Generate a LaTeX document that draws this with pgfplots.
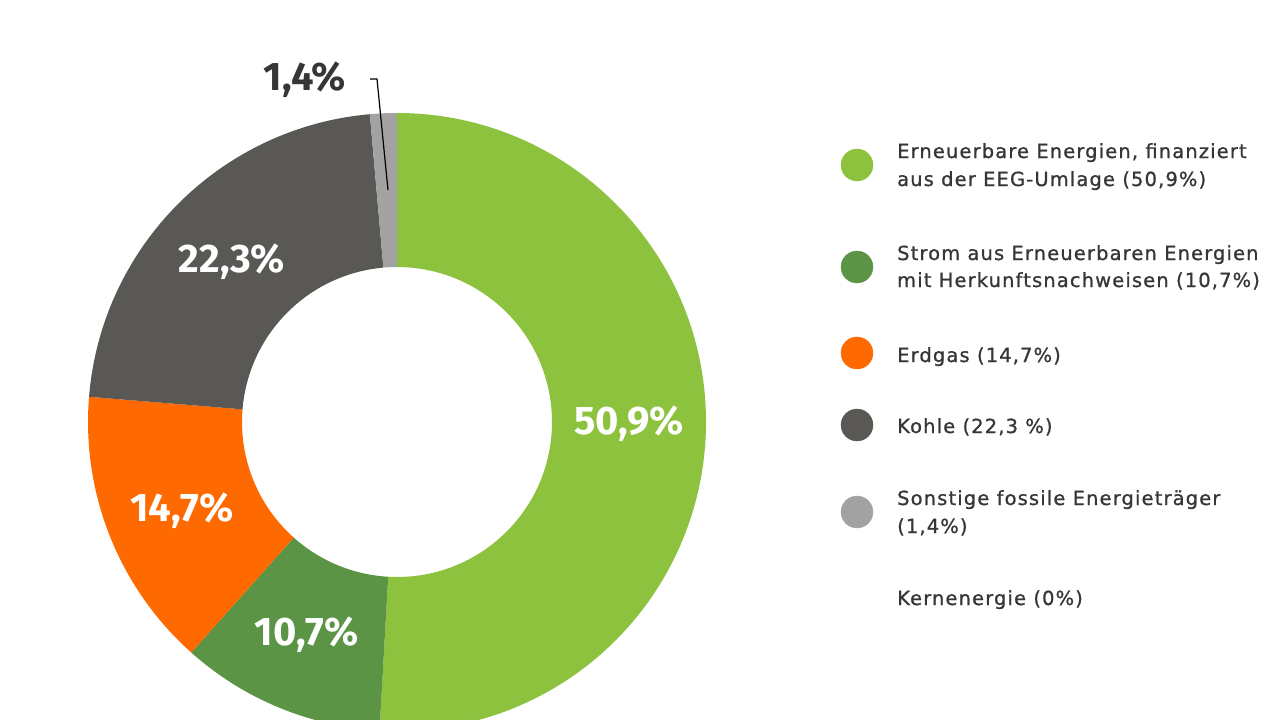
\documentclass[border=0pt]{standalone}
\usepackage{fontspec}
\setmainfont{Fira Sans}
\newfontfamily\legfont[FakeBold=1,LetterSpace=6]{DejaVu Sans}
\usepackage{pgfplots}
\pgfplotsset{compat=1.18}
\usepackage{pgfplotstable}
\definecolor{slice0}{HTML}{8DC23E}
\definecolor{slice1}{HTML}{5B9445}
\definecolor{slice2}{HTML}{FE6A00}
\definecolor{slice3}{HTML}{5A5855}
\definecolor{slice4}{HTML}{A2A2A2}
\definecolor{txt}{HTML}{363636}

\pgfplotstableread[col sep=comma]{
share,name
50.9,EEG
10.7,HKN
14.7,Erdgas
22.3,Kohle
1.4,Sonstige
}\piedata

\begin{document}
\begin{tikzpicture}
\path[use as bounding box] (0,0) rectangle (1280bp,720bp);
\def\cum{0}
\foreach \i in {0,...,4}{
  \pgfplotstablegetelem{\i}{share}\of\piedata
  \pgfmathsetmacro\s{90-3.6*\cum}
  \pgfmathsetmacro\e{90-3.6*(\cum+\pgfplotsretval)}
  \pgfmathsetmacro\newcum{\cum+\pgfplotsretval}
  \expandafter\xdef\csname sa\i\endcsname{\s}
  \expandafter\xdef\csname se\i\endcsname{\e}
  \xdef\cum{\newcum}
}
\begin{axis}[x=1bp,y=1bp,xmin=0,xmax=1280,ymin=0,ymax=720,
  hide axis, clip=false, at={(0,0)}, anchor=south west]
\pgfplotsinvokeforeach{0,...,4}{
  \fill[slice#1, shift={(axis cs:397,298)}]
    (\csname sa#1\endcsname:309bp)
    arc[start angle=\csname sa#1\endcsname, end angle=\csname se#1\endcsname, radius=309bp]
    -- (\csname se#1\endcsname:155bp)
    arc[start angle=\csname se#1\endcsname, end angle=\csname sa#1\endcsname, radius=155bp]
    -- cycle;
}
% slice labels
\node[white, font=\fontsize{40}{40}\selectfont\bfseries] at (axis cs:629,296) {50,9\%};
\node[white, font=\fontsize{40}{40}\selectfont\bfseries] at (axis cs:307,85) {10,7\%};
\node[white, font=\fontsize{40}{40}\selectfont\bfseries] at (axis cs:182,209) {14,7\%};
\node[white, font=\fontsize{40}{40}\selectfont\bfseries] at (axis cs:232,458) {22,3\%};
\node[txt, font=\fontsize{40}{40}\selectfont\bfseries] at (axis cs:305,640) {1,4\%};
\draw[black, line width=1.2bp] (axis cs:370,641) -- (axis cs:377,641) -- (axis cs:388,530);
% legend markers
\addplot[only marks, mark=*, mark size=16bp, mark options={draw=slice0, fill=slice0}] coordinates {(857,555)};
\addplot[only marks, mark=*, mark size=16bp, mark options={draw=slice1, fill=slice1}] coordinates {(857,453)};
\addplot[only marks, mark=*, mark size=16bp, mark options={draw=slice2, fill=slice2}] coordinates {(857,367)};
\addplot[only marks, mark=*, mark size=16bp, mark options={draw=slice3, fill=slice3}] coordinates {(857,295)};
\addplot[only marks, mark=*, mark size=16bp, mark options={draw=slice4, fill=slice4}] coordinates {(857,208)};
% legend text
\begin{scope}[every node/.style={txt, anchor=base west, inner sep=0pt, font=\legfont\fontsize{19.5}{19.5}\selectfont}]
\node at (axis cs:897,562) {Erneuerbare Energien, finanziert};
\node at (axis cs:897,534) {aus der EEG-Umlage (50,9\%)};
\node at (axis cs:897,460) {Strom aus Erneuerbaren Energien};
\node at (axis cs:897,433) {mit Herkunftsnachweisen (10,7\%)};
\node at (axis cs:897,358) {Erdgas (14,7\%)};
\node at (axis cs:897,287) {Kohle (22,3 \%)};
\node at (axis cs:897,215) {Sonstige fossile Energieträger};
\node at (axis cs:897,187) {(1,4\%)};
\node at (axis cs:897,115) {Kernenergie (0\%)};
\end{scope}
\end{axis}
\end{tikzpicture}
\end{document}
